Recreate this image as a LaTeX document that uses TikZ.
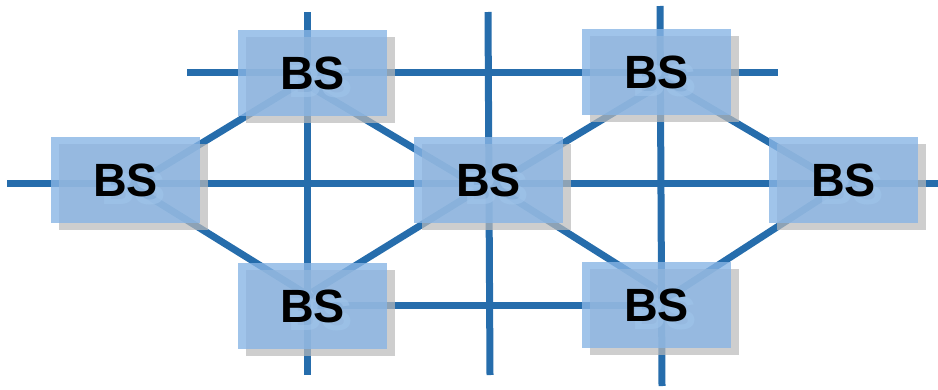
\documentclass[tikz,border=0pt]{standalone}
\usepackage{fontspec}
\setmainfont{Liberation Sans}
\usetikzlibrary{calc}
\definecolor{linec}{RGB}{38,109,172}
\definecolor{boxc}{RGB}{136,181,229}
\definecolor{shadowc}{RGB}{185,185,185}
\pgfdeclarelayer{lines}
\pgfdeclarelayer{shadow}
\pgfsetlayers{lines,shadow,main}
\tikzset{
  bs/.style={rectangle, inner sep=0pt, minimum width=111.75pt, minimum height=64.5pt,
    fill=boxc, fill opacity=0.8, text opacity=1,
    font=\bfseries\fontsize{35pt}{35pt}\selectfont},
  link/.style={draw=linec, line width=5.25pt},
  shadowbox/.style={fill=shadowc, fill opacity=0.7},
  ghost/.style={text=white, text opacity=0.6, inner sep=0pt,
    font=\bfseries\fontsize{35pt}{35pt}\selectfont}
}
\begin{document}
\begin{tikzpicture}[x=0.75pt, y=-0.75pt]
\useasboundingbox (0,0) rectangle (938,389);
% base stations
\node[bs] (L)  at (125.5,180) {BS};
\node[bs] (TL) at (312.5,73)  {BS};
\node[bs] (C)  at (488.5,180) {BS};
\node[bs] (TR) at (656.5,72)  {BS};
\node[bs] (BL) at (312.5,306) {BS};
\node[bs] (BR) at (656.5,305) {BS};
\node[bs] (R)  at (843.5,180) {BS};
% shadows (box and text shadow)
\begin{pgfonlayer}{shadow}
\foreach \n in {L,TL,C,TR,BL,BR,R}{
  \fill[shadowbox] ($(\n.north west)+(8,7)$) rectangle ($(\n.south east)+(8,7)$);
  \node[ghost] (\n ghost) at ($(\n.center)+(8,8)$) {BS};
}
\end{pgfonlayer}
% grid line ends
\coordinate (topW) at (187,72.5);
\coordinate (topE) at (778,72.5);
\coordinate (midW) at (7,183.5);
\coordinate (midE) at (945,183.5);
\coordinate (v1N) at (307,12);
\coordinate (v1S) at (307,375);
\coordinate (v2N) at (488,12);
\coordinate (v2S) at (490,375);
\coordinate (v3N) at (660,6);
\coordinate (v3S) at (662,386);
\begin{pgfonlayer}{lines}
\draw[link] (topW) -- (topE);
\draw[link] (midW) -- (midE);
\draw[link] (v1N) -- (v1S);
\draw[link] (v2N) -- (v2S);
\draw[link] (v3N) -- (v3S);
\draw[link] ($(BL)+(0,-0.5)$) -- ($(BR)+(0,0.5)$);
% diagonals
\draw[link] ($(L)+(0,9.5)$) -- ($(TL)+(0,2.8)$);
\draw[link] ($(TL)+(0,15)$) -- ($(C)+(0,12.6)$);
\draw[link] ($(C)+(0,8)$) -- ($(TR)+(0,15)$);
\draw[link] ($(TR)+(0,4)$) -- ($(R)+(0,6)$);
\draw[link] ($(L)+(0,2)$) -- ($(BL)+(0,-8)$);
\draw[link] ($(BL)+(0,-14)$) -- ($(C)+(0,3.5)$);
\draw[link] ($(C)+(0,3)$) -- ($(BR)+(0,-16)$);
\draw[link] ($(BR)+(0,0)$) -- ($(R)+(0,4)$);
\end{pgfonlayer}
\end{tikzpicture}
\end{document}
